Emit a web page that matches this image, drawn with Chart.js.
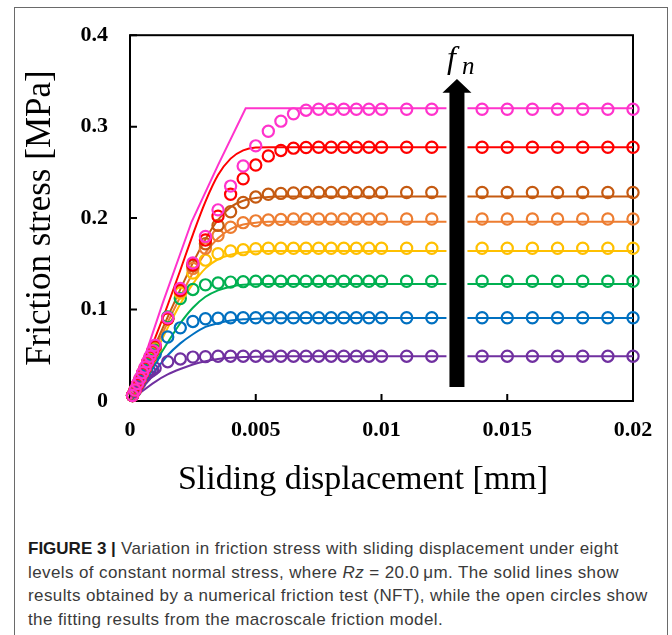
<!DOCTYPE html>
<html>
<head>
<meta charset="utf-8">
<script src="https://cdn.jsdelivr.net/npm/chart.js@4.4.0/dist/chart.umd.min.js"></script>
<style>
  html, body { margin: 0; padding: 0; background: #fff; }
  body { width: 672px; height: 635px; position: relative; overflow: hidden; }
  #box { position: absolute; left: 14px; top: 7px; width: 654px; height: 640px; border: 1px solid #6a6a6a; box-sizing: border-box; }
  #chart { position: absolute; left: 0; top: 0; }
  #caption { position: absolute; left: 28px; top: 537px; font-family: "Liberation Sans", Arial, sans-serif; font-size: 17px; letter-spacing: 0.4px; line-height: 23.5px; color: #3a3a3a; white-space: nowrap; }
  #caption b { color: #1a1a1a; letter-spacing: 0; }
</style>
</head>
<body>
<div id="box"></div>
<canvas id="chart" width="672" height="520"></canvas>
<div id="caption"><b>FIGURE 3 |</b> Variation in friction stress with sliding displacement under eight<br>levels of constant normal stress, where <i>Rz</i> = 20.0&thinsp;μm. The solid lines show<br>results obtained by a numerical friction test (NFT), while the open circles show<br>the fitting results from the macroscale friction model.</div>
<script>
// ejes
const xTickValues = [0, 0.005, 0.01, 0.015, 0.02];
const xTickLabels = ['0', '0.005', '0.01', '0.015', '0.02'];
const yTickValues = [0, 0.1, 0.2, 0.3, 0.4];
const yTickLabels = ['0', '0.1', '0.2', '0.3', '0.4'];
const xTitle = 'Sliding displacement [mm]';
const yTitle = 'Friction stress [MPa]';

// series: de menor a mayor esfuerzo normal
const seriesNames = ['purple', 'blue', 'green', 'yellow', 'orange', 'brown', 'red', 'magenta'];
const seriesColors = ['#7030A0', '#0070C0', '#00B050', '#FFC000', '#ED7D31', '#C55A11', '#FF0000', '#FF33CC'];

// circulos: modelo macroscopico (desplazamiento en mm)
const circleX = [0.0001, 0.0002, 0.0003, 0.0004, 0.0005, 0.0006, 0.0007, 0.0008, 0.0009, 0.001,
  0.0015, 0.002, 0.0025, 0.003, 0.0035, 0.004, 0.0045, 0.005, 0.0055, 0.006, 0.0065, 0.007, 0.0075, 0.008, 0.0085, 0.009, 0.0095, 0.01,
  0.011, 0.012, 0.013, 0.014, 0.015, 0.016, 0.017, 0.018, 0.019, 0.02];

const fitPurple = [0.006, 0.011, 0.016, 0.020, 0.024, 0.027, 0.030, 0.032, 0.034, 0.036,
  0.043, 0.046, 0.048, 0.0485, 0.049, 0.049, 0.049, 0.049, 0.049, 0.049, 0.049, 0.049, 0.049, 0.049, 0.049, 0.049, 0.049, 0.049,
  0.049, 0.049, 0.049, 0.049, 0.049, 0.049, 0.049, 0.049, 0.049, 0.049];
const fitBlue = [0.006, 0.012, 0.018, 0.023, 0.028, 0.033, 0.038, 0.043, 0.047, 0.051,
  0.070, 0.080, 0.087, 0.090, 0.0905, 0.091, 0.091, 0.091, 0.091, 0.091, 0.091, 0.091, 0.091, 0.091, 0.091, 0.091, 0.091, 0.091,
  0.091, 0.091, 0.091, 0.091, 0.091, 0.091, 0.091, 0.091, 0.091, 0.091];
const fitGreen = [0.006, 0.012, 0.018, 0.024, 0.030, 0.035, 0.041, 0.046, 0.051, 0.056,
  0.092, 0.112, 0.122, 0.127, 0.129, 0.130, 0.1305, 0.131, 0.131, 0.131, 0.131, 0.131, 0.131, 0.131, 0.131, 0.131, 0.131, 0.131,
  0.131, 0.131, 0.131, 0.131, 0.131, 0.131, 0.131, 0.131, 0.131, 0.131];
const fitYellow = [0.006, 0.012, 0.018, 0.024, 0.030, 0.036, 0.042, 0.047, 0.053, 0.058,
  0.090, 0.118, 0.140, 0.154, 0.161, 0.164, 0.1655, 0.1665, 0.167, 0.167, 0.167, 0.167, 0.167, 0.167, 0.167, 0.167, 0.167, 0.167,
  0.167, 0.167, 0.167, 0.167, 0.167, 0.167, 0.167, 0.167, 0.167, 0.167];
const fitOrange = [0.006, 0.012, 0.018, 0.024, 0.030, 0.036, 0.042, 0.048, 0.053, 0.059,
  0.090, 0.120, 0.145, 0.167, 0.181, 0.190, 0.195, 0.197, 0.198, 0.1985, 0.199, 0.199, 0.199, 0.199, 0.199, 0.199, 0.199, 0.199,
  0.199, 0.199, 0.199, 0.199, 0.199, 0.199, 0.199, 0.199, 0.199, 0.199];
const fitBrown = [0.006, 0.012, 0.018, 0.024, 0.030, 0.036, 0.042, 0.048, 0.054, 0.059,
  0.090, 0.121, 0.148, 0.172, 0.192, 0.207, 0.217, 0.223, 0.226, 0.227, 0.2275, 0.228, 0.228, 0.228, 0.228, 0.228, 0.228, 0.228,
  0.228, 0.228, 0.228, 0.228, 0.228, 0.228, 0.228, 0.228, 0.228, 0.228];
const fitRed = [0.006, 0.012, 0.018, 0.024, 0.030, 0.036, 0.042, 0.048, 0.054, 0.060,
  0.090, 0.121, 0.149, 0.176, 0.202, 0.226, 0.243, 0.258, 0.268, 0.274, 0.2765, 0.2772, 0.2775, 0.2775, 0.2775, 0.2775, 0.2775, 0.2775,
  0.2775, 0.2775, 0.2775, 0.2775, 0.2775, 0.2775, 0.2775, 0.2775, 0.2775, 0.2775];
const fitMagenta = [0.006, 0.012, 0.019, 0.025, 0.031, 0.037, 0.043, 0.049, 0.055, 0.061,
  0.091, 0.123, 0.151, 0.180, 0.209, 0.235, 0.257, 0.279, 0.295, 0.306, 0.314, 0.318, 0.319, 0.319, 0.319, 0.319, 0.319, 0.319,
  0.319, 0.319, 0.319, 0.319, 0.319, 0.319, 0.319, 0.319, 0.319, 0.319];

// lineas: ensayo numerico (NFT)
const nftX = [0, 0.0005, 0.001, 0.0015, 0.002, 0.0025, 0.003, 0.0035, 0.004, 0.0045, 0.005, 0.0055, 0.006, 0.007, 0.02];
const nftPurple = [0, 0.011, 0.021, 0.029, 0.035, 0.040, 0.0435, 0.0458, 0.0472, 0.048, 0.0485, 0.0487, 0.0488, 0.0488, 0.0488];
const nftBlue = [0, 0.016, 0.033, 0.050, 0.063, 0.073, 0.081, 0.085, 0.088, 0.0893, 0.090, 0.0904, 0.0906, 0.0907, 0.0907];
const nftGreen = [0, 0.020, 0.042, 0.064, 0.085, 0.102, 0.114, 0.121, 0.125, 0.127, 0.1277, 0.128, 0.128, 0.128, 0.128];
const nftYellow = [0, 0.025, 0.052, 0.080, 0.106, 0.128, 0.145, 0.155, 0.160, 0.1625, 0.1635, 0.164, 0.164, 0.164, 0.164];
const nftOrange = [0, 0.028, 0.057, 0.086, 0.114, 0.140, 0.162, 0.178, 0.188, 0.193, 0.195, 0.196, 0.196, 0.196, 0.196];
const nftBrown = [0, 0.030, 0.061, 0.092, 0.122, 0.151, 0.177, 0.198, 0.212, 0.219, 0.222, 0.223, 0.2235, 0.2235, 0.2235];
const nftRed = [0, 0.034, 0.069, 0.105, 0.143, 0.182, 0.218, 0.247, 0.265, 0.274, 0.2772, 0.2775, 0.2775, 0.2775, 0.2775];
const nftXMagenta = [0, 0.0013, 0.00245, 0.0035, 0.0046, 0.02];
const nftMagenta = [0, 0.107, 0.196, 0.258, 0.320, 0.320];

const fitSeries = [fitPurple, fitBlue, fitGreen, fitYellow, fitOrange, fitBrown, fitRed, fitMagenta];
const nftSeries = [nftPurple, nftBlue, nftGreen, nftYellow, nftOrange, nftBrown, nftRed, nftMagenta];

// flecha f_n
const arrowX = 0.013;
const arrowBottom = 0.0152;
const arrowHeadBase = 0.337;
const arrowTip = 0.352;

const serif = '"Liberation Serif", "Times New Roman", serif';

const datasets = [];
// circulos arriba de las lineas, magenta arriba de todo
seriesNames.forEach((name, i) => {
  datasets.push({
    label: 'fit ' + name,
    data: circleX.map((x, k) => ({ x: x, y: fitSeries[i][k] })),
    showLine: false,
    pointRadius: 5.6,
    pointBorderWidth: 2.2,
    pointBorderColor: seriesColors[i],
    pointBackgroundColor: 'rgba(0,0,0,0)',
    clip: false,
    order: 10 - i
  });
  const xs = name === 'magenta' ? nftXMagenta : nftX;
  datasets.push({
    label: 'NFT ' + name,
    data: xs.map((x, k) => ({ x: x, y: nftSeries[i][k] })),
    showLine: true,
    borderColor: seriesColors[i],
    borderWidth: 2,
    pointRadius: 0,
    cubicInterpolationMode: name === 'magenta' ? 'default' : 'monotone',
    tension: 0,
    order: 30 - i
  });
});

const framePlugin = {
  id: 'frame',
  beforeDatasetsDraw(chart) {
    const { ctx, chartArea: a, scales: { x, y } } = chart;
    ctx.save();
    ctx.strokeStyle = '#000';
    ctx.lineWidth = 2;
    ctx.strokeRect(a.left, a.top, a.right - a.left, a.bottom - a.top);
    ctx.beginPath();
    x.ticks.forEach(t => {
      const px = x.getPixelForValue(t.value);
      ctx.moveTo(px, a.bottom);
      ctx.lineTo(px, a.bottom - 7);
    });
    y.ticks.forEach(t => {
      const py = y.getPixelForValue(t.value);
      ctx.moveTo(a.left, py);
      ctx.lineTo(a.left + 7, py);
    });
    ctx.stroke();
    // titulo del eje x (algo corrido a la izquierda en el original)
    ctx.fillStyle = '#000';
    ctx.font = '34px ' + serif;
    ctx.textAlign = 'center';
    ctx.textBaseline = 'alphabetic';
    ctx.fillText(xTitle, 363, 489);
    ctx.restore();
  },
  afterDatasetsDraw(chart) {
    const { ctx, scales: { x, y } } = chart;
    const cx = x.getPixelForValue(arrowX);
    const yb = y.getPixelForValue(arrowBottom);
    const yh = y.getPixelForValue(arrowHeadBase);
    const yt = y.getPixelForValue(arrowTip);
    ctx.save();
    ctx.beginPath();
    ctx.moveTo(cx - 7.5, yb);
    ctx.lineTo(cx - 7.5, yh);
    ctx.lineTo(cx - 14.5, yh);
    ctx.lineTo(cx, yt);
    ctx.lineTo(cx + 14.5, yh);
    ctx.lineTo(cx + 7.5, yh);
    ctx.lineTo(cx + 7.5, yb);
    ctx.closePath();
    ctx.strokeStyle = '#fff';
    ctx.lineWidth = 6;
    ctx.lineJoin = 'miter';
    ctx.stroke();
    ctx.fillStyle = '#000';
    ctx.fill();
    ctx.font = 'italic 32px ' + serif;
    ctx.textBaseline = 'alphabetic';
    ctx.textAlign = 'left';
    ctx.fillText('f', cx - 10, yt - 11);
    ctx.font = 'italic 25px ' + serif;
    ctx.fillText('n', cx + 5, yt - 5);
    ctx.restore();
  }
};

const ctx = document.getElementById('chart').getContext('2d');
const chart = new Chart(ctx, {
  type: 'scatter',
  data: { datasets: datasets },
  options: {
    responsive: false,
    animation: false,
    layout: { padding: { left: 0, top: 32, right: 39, bottom: 0 } },
    plugins: { legend: { display: false }, tooltip: { enabled: false } },
    scales: {
      x: {
        type: 'linear',
        min: 0,
        max: 0.02,
        grid: { display: false, drawTicks: false },
        border: { display: false },
        afterBuildTicks: s => { s.ticks = xTickValues.map(v => ({ value: v })); },
        afterFit: s => { s.height = 119; },
        ticks: {
          callback: (v, i) => xTickLabels[i],
          font: { family: serif, size: 22, weight: 'bold' },
          color: '#000',
          padding: 16,
          maxRotation: 0,
          autoSkip: false
        },
        title: { display: false }
      },
      y: {
        type: 'linear',
        min: 0,
        max: 0.4,
        grid: { display: false, drawTicks: false },
        border: { display: false },
        afterBuildTicks: s => { s.ticks = yTickValues.map(v => ({ value: v })); },
        afterFit: s => { s.width = 130; },
        ticks: {
          callback: (v, i) => yTickLabels[i],
          font: { family: serif, size: 22, weight: 'bold' },
          color: '#000',
          padding: 22
        },
        title: {
          display: true,
          text: yTitle,
          font: { family: serif, size: 35 },
          color: '#000',
          padding: { top: 20, bottom: 0 }
        }
      }
    }
  },
  plugins: [framePlugin]
});
</script>
</body>
</html>
